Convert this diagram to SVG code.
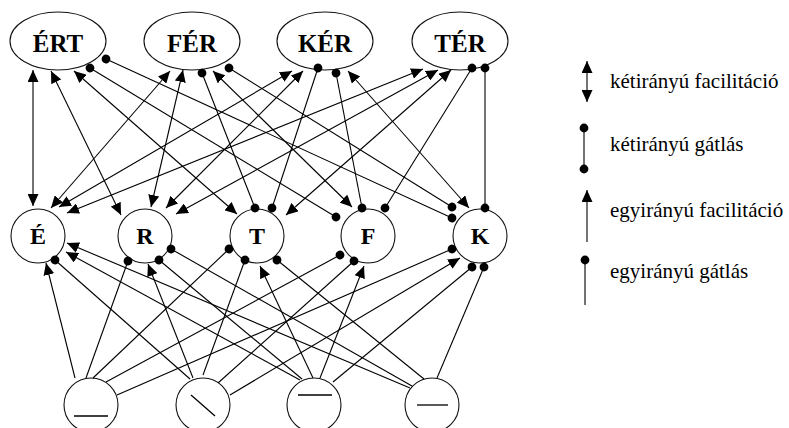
<svg xmlns="http://www.w3.org/2000/svg" width="789" height="428" viewBox="0 0 789 428">
<style>
.nd{fill:#fff;stroke:#111;stroke-width:1.1}
.wl{font-family:"Liberation Serif",serif;font-weight:bold;font-size:25px;fill:#000;text-anchor:middle}
.ll{font-family:"Liberation Serif",serif;font-weight:bold;font-size:24px;fill:#000;text-anchor:middle}
.lg{font-family:"Liberation Serif",serif;font-size:21px;fill:#000}
.c line{stroke:#000;stroke-width:1.1;fill:none}
.ff{marker-start:url(#ar);marker-end:url(#ar)}
.ii{marker-start:url(#dt);marker-end:url(#dt)}
.f{marker-end:url(#ar)}
.i{marker-end:url(#dt)}
.bar{stroke:#000;stroke-width:1.3}
</style>
<defs>
<marker id="ar" viewBox="0 0 12 11" refX="12" refY="5.5" markerWidth="12" markerHeight="11" markerUnits="userSpaceOnUse" orient="auto-start-reverse"><path d="M0,0 L12,5.5 L0,11 z" fill="#000"/></marker>
<marker id="dt" viewBox="0 0 10 10" refX="5" refY="5" markerWidth="10" markerHeight="10" markerUnits="userSpaceOnUse" orient="auto"><circle cx="5" cy="5" r="4.4" fill="#000"/></marker>
</defs>
<rect width="789" height="428" fill="#fff"/>

<g id="word-ERT"><ellipse class="nd" cx="58" cy="41" rx="48" ry="29"/><text class="wl" x="58" y="52">ÉRT</text></g>
<g id="word-FER"><ellipse class="nd" cx="192" cy="41" rx="48" ry="29"/><text class="wl" x="192" y="52">FÉR</text></g>
<g id="word-KER"><ellipse class="nd" cx="325" cy="41" rx="48" ry="29"/><text class="wl" x="325" y="52">KÉR</text></g>
<g id="word-TER"><ellipse class="nd" cx="460" cy="41" rx="48" ry="29"/><text class="wl" x="460" y="52">TÉR</text></g>

<g id="letter-E"><circle class="nd" cx="38" cy="236" r="27"/><text class="ll" x="38" y="244">É</text></g>
<g id="letter-R"><circle class="nd" cx="145" cy="236" r="27"/><text class="ll" x="145" y="244">R</text></g>
<g id="letter-T"><circle class="nd" cx="257" cy="236" r="27"/><text class="ll" x="257" y="244">T</text></g>
<g id="letter-F"><circle class="nd" cx="368" cy="236" r="27"/><text class="ll" x="368" y="244">F</text></g>
<g id="letter-K"><circle class="nd" cx="480" cy="236" r="27"/><text class="ll" x="480" y="244">K</text></g>

<g id="feature-1"><circle class="nd" cx="91" cy="405" r="27"/><line class="bar" x1="74" y1="416" x2="108" y2="416"/></g>
<g id="feature-2"><circle class="nd" cx="203" cy="405" r="27"/><line class="bar" x1="191" y1="395" x2="215" y2="416"/></g>
<g id="feature-3"><circle class="nd" cx="314" cy="405" r="27"/><line class="bar" x1="298" y1="395" x2="332" y2="395"/></g>
<g id="feature-4"><circle class="nd" cx="432" cy="405" r="27"/><line class="bar" x1="417" y1="405" x2="448" y2="405"/></g>

<g id="connectors" class="c">
<line class="ff" x1="33" y1="70" x2="33" y2="206"/>
<line class="ff" x1="51" y1="71" x2="121" y2="215"/>
<line class="ff" x1="74" y1="71" x2="237" y2="214"/>
<line class="ii" x1="90" y1="68" x2="336" y2="217"/>
<line class="ii" x1="106" y1="59" x2="452" y2="218"/>
<line class="ff" x1="170" y1="71" x2="51" y2="208"/>
<line class="ff" x1="183" y1="70" x2="151" y2="207"/>
<line class="ii" x1="202" y1="73" x2="255" y2="208"/>
<line class="ff" x1="213" y1="71" x2="352" y2="207"/>
<line class="ii" x1="229" y1="68" x2="452" y2="207"/>
<line class="ff" x1="292" y1="71" x2="59" y2="207"/>
<line class="ff" x1="303" y1="71" x2="166" y2="208"/>
<line class="ii" x1="318" y1="68" x2="272" y2="208"/>
<line class="ii" x1="336" y1="73" x2="362" y2="208"/>
<line class="ff" x1="348" y1="71" x2="469" y2="208"/>
<line class="ff" x1="423" y1="69" x2="67" y2="213"/>
<line class="ff" x1="438" y1="70" x2="176" y2="214"/>
<line class="ff" x1="451" y1="70" x2="286" y2="215"/>
<line class="ii" x1="472" y1="68" x2="385" y2="208"/>
<line class="ii" x1="485" y1="68" x2="485" y2="208"/>

<line class="f" x1="75" y1="378" x2="46" y2="263"/>
<line class="i" x1="86" y1="378" x2="128" y2="261"/>
<line class="i" x1="93" y1="378" x2="229" y2="249"/>
<line class="i" x1="106" y1="382" x2="340" y2="255"/>
<line class="i" x1="117" y1="395" x2="452" y2="249"/>
<line class="i" x1="190" y1="379" x2="55" y2="260"/>
<line class="f" x1="193" y1="378" x2="148" y2="264"/>
<line class="i" x1="203" y1="375" x2="245" y2="260"/>
<line class="i" x1="218" y1="383" x2="354" y2="261"/>
<line class="f" x1="230" y1="395" x2="460" y2="258"/>
<line class="f" x1="300" y1="380" x2="66" y2="252"/>
<line class="i" x1="302" y1="379" x2="159" y2="260"/>
<line class="f" x1="313" y1="378" x2="260" y2="266"/>
<line class="f" x1="320" y1="378" x2="364" y2="266"/>
<line class="i" x1="333" y1="382" x2="472" y2="267"/>
<line class="f" x1="410" y1="388" x2="67" y2="243"/>
<line class="i" x1="412" y1="386" x2="171" y2="249"/>
<line class="i" x1="424" y1="379" x2="277" y2="260"/>
<line class="i" x1="437" y1="378" x2="484" y2="267"/>
</g>

<g id="legend">
<g class="c">
<line class="ff" x1="587" y1="61" x2="587" y2="102"/>
<line class="ii" x1="584" y1="128" x2="584" y2="169"/>
<line class="f" x1="587" y1="242" x2="587" y2="190"/>
<line class="i" x1="585" y1="305" x2="585" y2="260"/>
</g>
<text class="lg" x="610" y="88">kétirányú facilitáció</text>
<text class="lg" x="610" y="151">kétirányú gátlás</text>
<text class="lg" x="610" y="217">egyirányú facilitáció</text>
<text class="lg" x="610" y="278">egyirányú gátlás</text>
</g>
</svg>
